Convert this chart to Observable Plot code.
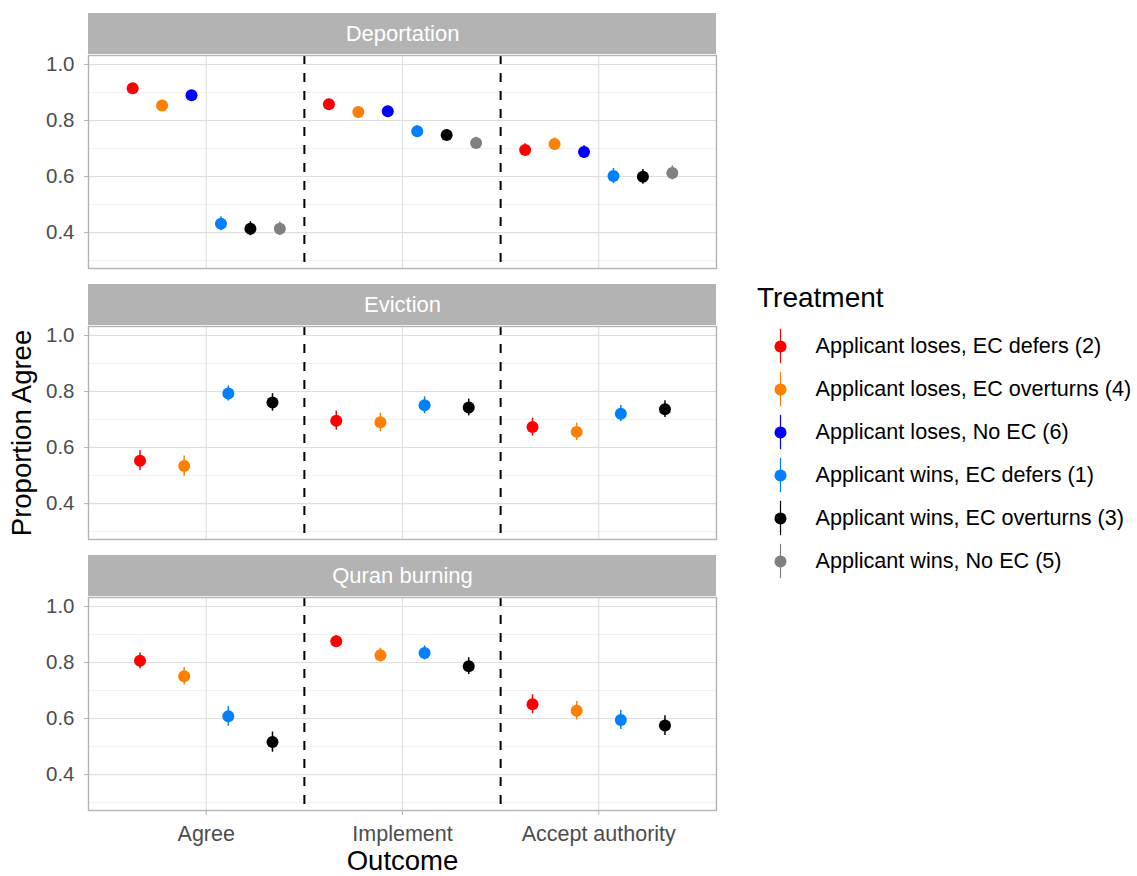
<!DOCTYPE html>
<html><head><meta charset="utf-8">
<script src="https://cdn.jsdelivr.net/npm/d3@7"></script>
<script src="https://cdn.jsdelivr.net/npm/@observablehq/plot@0.6"></script>
<style>
body{margin:0;background:#fff;font-family:"Liberation Sans",Arial,sans-serif;}
#wrap{position:relative;width:1137px;height:876px;background:#fff;}
#chart{position:absolute;left:0;top:0;}
#legendTitle{position:absolute;left:757px;top:283px;font-size:28px;line-height:30px;color:#000;}
#legend{position:absolute;left:737px;top:310px;}
</style></head><body>
<div id="wrap"><div id="chart"></div><div id="legendTitle">Treatment</div><div id="legend"></div></div>
<script>
const scenarios = ["Deportation", "Eviction", "Quran burning"];
const outcomes = ["Agree", "Implement", "Accept authority"];
const treatments = [
  "Applicant loses, EC defers (2)",
  "Applicant loses, EC overturns (4)",
  "Applicant loses, No EC (6)",
  "Applicant wins, EC defers (1)",
  "Applicant wins, EC overturns (3)",
  "Applicant wins, No EC (5)"
];
const treatmentColors = ["#ff0000", "#ff7f00", "#0000ff", "#0080ff", "#000000", "#808080"];

// rows = outcomes (Agree, Implement, Accept authority); columns = treatments present in that scenario
const deportationTreatments = [0, 1, 2, 3, 4, 5];
const deportationEstimate = [
  [0.915, 0.854, 0.890, 0.432, 0.414, 0.414],
  [0.858, 0.830, 0.833, 0.762, 0.748, 0.720],
  [0.695, 0.716, 0.688, 0.602, 0.599, 0.613]
];
const deportationError = [
  [0.015, 0.015, 0.015, 0.025, 0.025, 0.024],
  [0.018, 0.018, 0.018, 0.020, 0.020, 0.020],
  [0.022, 0.022, 0.022, 0.027, 0.026, 0.025]
];

const evictionTreatments = [0, 1, 3, 4];
const evictionEstimate = [
  [0.553, 0.534, 0.793, 0.761],
  [0.696, 0.690, 0.751, 0.743],
  [0.673, 0.656, 0.721, 0.737]
];
const evictionError = [
  [0.036, 0.036, 0.027, 0.031],
  [0.034, 0.033, 0.030, 0.030],
  [0.032, 0.031, 0.029, 0.030]
];

const quranTreatments = [0, 1, 3, 4];
const quranEstimate = [
  [0.806, 0.751, 0.608, 0.516],
  [0.876, 0.826, 0.834, 0.787],
  [0.651, 0.628, 0.595, 0.575]
];
const quranError = [
  [0.028, 0.031, 0.035, 0.036],
  [0.020, 0.025, 0.025, 0.030],
  [0.034, 0.033, 0.034, 0.035]
];

const yTicks = [0.4, 0.6, 0.8, 1.0];
const yMinor = [0.3, 0.5, 0.7, 0.9];
const outcomeTicks = [1, 2, 3];
const dividers = [1.5, 2.5];
const dodgeWidth = 0.9;

const rows = [];
[
  [scenarios[0], deportationTreatments, deportationEstimate, deportationError],
  [scenarios[1], evictionTreatments, evictionEstimate, evictionError],
  [scenarios[2], quranTreatments, quranEstimate, quranError]
].forEach(([s, tIdx, est, err]) => {
  const n = tIdx.length;
  est.forEach((row, o) => row.forEach((v, k) => {
    rows.push({
      scenario: s,
      outcome: outcomes[o],
      treatment: treatments[tIdx[k]],
      pos: o + 1 + (k - (n - 1) / 2) * dodgeWidth / n,
      est: v,
      lo: v - err[o][k],
      hi: v + err[o][k]
    });
  }));
});

const font = '"Liberation Sans", Arial, sans-serif';

const chart = Plot.plot({
  width: 730, height: 876,
  marginLeft: 88, marginRight: 14, marginTop: 54, marginBottom: 64,
  style: {fontFamily: font, background: "white", overflow: "visible"},
  x: {domain: [0.4, 3.6]},
  y: {domain: [0.272, 1.032]},
  fy: {domain: scenarios, paddingInner: 0.2132, paddingOuter: 0, axis: null, label: null},
  color: {domain: treatments, range: treatmentColors},
  marks: [
    Plot.ruleY(yMinor, {stroke: "#ededed", strokeWidth: 0.8}),
    Plot.ruleY(yTicks, {stroke: "#dedede", strokeWidth: 1.1}),
    Plot.ruleX(outcomeTicks, {stroke: "#dedede", strokeWidth: 1.1}),
    Plot.ruleX(dividers, {stroke: "black", strokeWidth: 2, strokeDasharray: "9,9"}),
    Plot.ruleX(rows, {x: "pos", y1: "lo", y2: "hi", fy: "scenario", stroke: "treatment", strokeWidth: 1.5}),
    Plot.dot(rows, {x: "pos", y: "est", fy: "scenario", fill: "treatment", r: 6}),
    Plot.frame({stroke: "#b3b3b3", strokeWidth: 1.4}),
    Plot.rect(scenarios, {fy: d => d, fill: "#b3b3b3", insetBottom: 172, dy: -42}),
    Plot.text(scenarios, {fy: d => d, text: d => d, frameAnchor: "top", lineAnchor: "middle", textAnchor: "middle", dy: -21.5, fill: "white", fontSize: 22}),
    Plot.axisY({ticks: yTicks, tickFormat: ".1f", tickSize: 4, tickPadding: 10, stroke: "#b3b3b3", fill: "#4d4d4d", fontSize: 20.5, label: null}),
    Plot.axisX({ticks: outcomeTicks, tickFormat: i => outcomes[i - 1], tickSize: 5, tickPadding: 10, stroke: "#b3b3b3", fill: "#4d4d4d", fontSize: 21.5, label: null}),
    Plot.text(["Outcome"], {fy: () => scenarios[2], frameAnchor: "bottom", lineAnchor: "middle", textAnchor: "middle", dy: 51, fontSize: 27.5, fill: "black"}),
    Plot.text(["Proportion Agree"], {fy: () => scenarios[1], frameAnchor: "left", lineAnchor: "middle", textAnchor: "middle", dx: -66, rotate: -90, fontSize: 27.5, fill: "black"})
  ]
});
document.getElementById("chart").appendChild(chart);

const legendRows = treatments.map((t, i) => ({t, i}));
const legend = Plot.plot({
  width: 400, height: 290,
  marginLeft: 43, marginRight: 0, marginTop: 0, marginBottom: 0,
  style: {fontFamily: font, background: "transparent", overflow: "visible"},
  x: {domain: [0, 1], axis: null},
  y: {domain: [-0.5, 5.5], range: [14.5, 272.5], axis: null},
  color: {domain: treatments, range: treatmentColors},
  marks: [
    Plot.ruleX(legendRows, {x: 0, y1: d => d.i - 0.4, y2: d => d.i + 0.4, stroke: "t", strokeWidth: 1.2}),
    Plot.dot(legendRows, {x: 0, y: "i", fill: "t", r: 6}),
    Plot.text(legendRows, {x: 0, y: "i", text: "t", dx: 35, textAnchor: "start", fontSize: 21.6, fill: "black"})
  ]
});
document.getElementById("legend").appendChild(legend);
</script>
</body></html>
